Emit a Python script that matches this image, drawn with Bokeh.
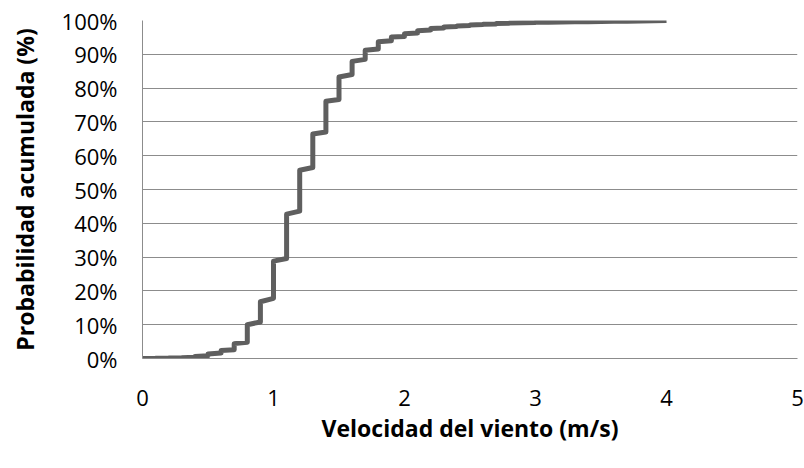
from bokeh.plotting import figure
from bokeh.models import FixedTicker, PrintfTickFormatter, Range1d
from bokeh.embed import file_html
from bokeh.resources import INLINE

# Wind speed levels (m/s) and cumulative probability (%) at start / end of each step
speed = [0.0, 0.1, 0.2, 0.3, 0.4, 0.5, 0.6, 0.7, 0.8, 0.9,
         1.0, 1.1, 1.2, 1.3, 1.4, 1.5, 1.6, 1.7, 1.8, 1.9,
         2.0, 2.1, 2.2, 2.3, 2.4, 2.5, 2.6, 2.7, 2.8, 2.9,
         3.0, 3.1, 3.2, 3.3, 3.4, 3.5, 3.6, 3.7, 3.8, 3.9, 4.0]
prob_start = [0.0, 0.02, 0.07, 0.15, 0.35, 0.8, 1.6, 2.6, 4.8, 10.8,
              17.8, 29.6, 43.6, 56.5, 67.0, 76.6, 84.0, 88.5, 91.6, 94.0,
              95.3, 96.3, 97.2, 97.8, 98.2, 98.5, 98.8, 99.0, 99.2, 99.3,
              99.4, 99.5, 99.55, 99.6, 99.65, 99.7, 99.75, 99.8, 99.85, 99.9, 100.0]
prob_end = [0.0, 0.05, 0.12, 0.25, 0.6, 1.3, 2.4, 4.4, 10.0, 16.8,
            28.8, 42.7, 55.7, 66.4, 76.1, 83.3, 87.9, 91.2, 93.7, 95.1,
            96.1, 97.0, 97.6, 98.1, 98.4, 98.7, 98.9, 99.1, 99.25, 99.35,
            99.45, 99.5, 99.55, 99.6, 99.65, 99.7, 99.75, 99.8, 99.85, 99.9, 100.0]

x_ticks = [0, 1, 2, 3, 4, 5]
y_ticks = [0, 10, 20, 30, 40, 50, 60, 70, 80, 90, 100]

xs, ys = [], []
for s, a, b in zip(speed, prob_start, prob_end):
    xs += [s, s]
    ys += [a, b]

FONT = "Open Sans"
p = figure(width=804, height=468, output_backend="svg", toolbar_location=None,
           x_range=Range1d(0, 5), y_range=Range1d(0, 100),
           min_border_left=142, min_border_right=7, min_border_top=20,
           min_border_bottom=110)
p.outline_line_color = None
p.background_fill_color = "white"
p.border_fill_color = "white"

p.line(xs, ys, line_color="#5f5f5f", line_width=5, line_join="round")

# grid
p.xgrid.grid_line_color = None
p.ygrid.ticker = FixedTicker(ticks=y_ticks)
p.ygrid.grid_line_color = "#8c8c8c"
p.ygrid.grid_line_width = 1

# x axis
p.xaxis.ticker = FixedTicker(ticks=x_ticks)
p.xaxis.axis_label = "Velocidad del viento (m/s)"
p.xaxis.axis_line_color = "#8c8c8c"
p.xaxis.major_tick_line_color = None
p.xaxis.minor_tick_line_color = None
p.xaxis.major_tick_in = 0
p.xaxis.major_tick_out = 0
p.xaxis.major_label_standoff = 31
p.xaxis.axis_label_standoff = 3

# y axis
p.yaxis.ticker = FixedTicker(ticks=y_ticks)
p.yaxis.formatter = PrintfTickFormatter(format="%d%%")
p.yaxis.axis_label = "Probabilidad acumulada (%)"
p.yaxis.axis_line_color = "#8c8c8c"
p.yaxis.major_tick_line_color = None
p.yaxis.minor_tick_line_color = None
p.yaxis.major_tick_in = 0
p.yaxis.major_tick_out = 0
p.yaxis.major_label_standoff = 25
p.yaxis.axis_label_standoff = 18

for ax in (p.xaxis[0], p.yaxis[0]):
    ax.major_label_text_font = FONT
    ax.major_label_text_font_size = "22px"
    ax.major_label_text_color = "black"
    ax.axis_label_text_font = FONT
    ax.axis_label_text_font_size = "23px"
    ax.axis_label_text_font_style = "bold"
    ax.axis_label_text_color = "black"

open("out.html", "w").write(file_html(p, INLINE))
